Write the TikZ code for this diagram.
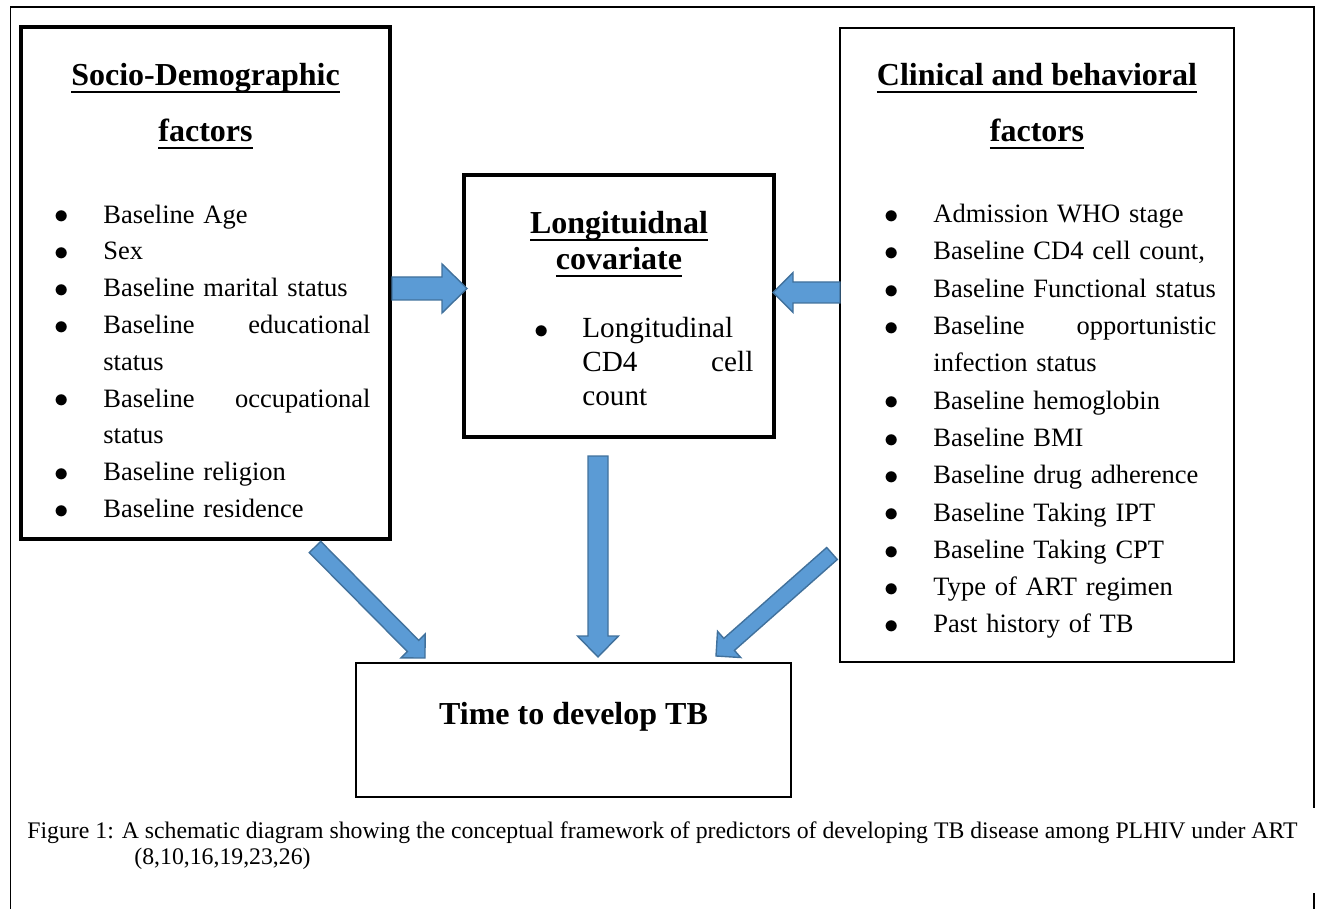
\documentclass[tikz,border=0pt]{standalone}
\usepackage{fontspec}
\setmainfont{Liberation Serif}
\usepackage{tikz}
\usetikzlibrary{calc,positioning}
\definecolor{arrowblue}{HTML}{5B9BD5}
\definecolor{arrowedge}{HTML}{41719C}

% Word-like underline for the headings
\newsavebox{\ulbox}
\newcommand{\wordul}[1]{\sbox{\ulbox}{#1}\rlap{\rule[-3.5pt]{\wd\ulbox}{1pt}}\usebox{\ulbox}}

% bullet list with flush-left bullets
\newcommand{\bigbullet}{\raisebox{-0.4pt}{\fontsize{15}{15}\selectfont$\bullet$}}
\newenvironment{factorlist}[1]{%
  \begin{list}{\bigbullet}{\setlength{\leftmargin}{#1}\setlength{\labelwidth}{#1}%
    \setlength{\labelsep}{0pt}\setlength{\itemsep}{0pt}\setlength{\parsep}{0pt}%
    \setlength{\topsep}{0pt}\setlength{\partopsep}{0pt}%
    \renewcommand{\makelabel}[1]{##1\hfil}}}%
  {\end{list}}

\newcommand{\sociofont}{\fontsize{13.25}{18.4}\selectfont\hyphenpenalty=10000}
\newcommand{\clinfont}{\fontsize{13.25}{18.65}\selectfont\hyphenpenalty=10000}
\newcommand{\longifont}{\fontsize{14.6}{17}\selectfont\hyphenpenalty=10000}

% block arrow: from, to, half shaft, half head, head length
\newcommand{\fatarrow}[5]{%
  \coordinate (#2-hd) at ($(#2)!#5!(#1)$);
  \draw[fatarrow] ($(#1)!#3!90:(#2)$) -- ($(#2-hd)!#3!90:(#2)$) -- ($(#2-hd)!#4!90:(#2)$) -- (#2)
    -- ($(#2-hd)!#4!-90:(#2)$) -- ($(#2-hd)!#3!-90:(#2)$) -- ($(#1)!#3!-90:(#2)$) -- cycle;}

\begin{document}
\begin{tikzpicture}[x=0.5pt,y=-0.5pt]
\tikzstyle{factorbox}=[draw,rectangle,inner sep=0pt]
\tikzstyle{heading}=[inner sep=0pt,anchor=base,font=\bfseries\fontsize{16}{20}\selectfont]
\tikzstyle{itemtext}=[inner sep=0pt,anchor=north west]
\tikzstyle{fatarrow}=[draw=arrowedge,fill=arrowblue,line width=0.7pt,line join=miter]
\tikzstyle{frameline}=[line width=0.8pt]
\useasboundingbox (0,0) rectangle (1318,909);

% outer frame
\draw[frameline] (10.5,909) -- (10.5,7) -- (1314,7) -- (1314,808);
\draw[frameline] (1314,893) -- (1314,909);

% boxes
\node[factorbox,line width=1.75pt,minimum width=184.5pt,minimum height=256pt] (socio) at (205.5,283) {};
\node[factorbox,line width=1.75pt,minimum width=155pt,minimum height=131pt] (longi) at (619,306) {};
\node[factorbox,line width=1pt,minimum width=197pt,minimum height=317pt] (clin) at (1037,345) {};
\node[factorbox,line width=0.8pt,minimum width=217.5pt,minimum height=67pt] (tb) at (573.5,730) {};

% headings
\node[heading] (sociohead) at (205.5,86) {\wordul{Socio-Demographic}};
\node[heading] (sociohead2) at (205.5,142) {\wordul{factors}};
\node[heading] (clinhead) at (1037,86) {\wordul{Clinical and behavioral}};
\node[heading] (clinhead2) at (1037,142) {\wordul{factors}};
\node[heading] (longihead) at (619,234) {\wordul{Longituidnal}};
\node[heading] (longihead2) at (619,270) {\wordul{covariate}};
\node[heading] (tbhead) at (573.5,724) {Time to develop TB};

% lists
\node[itemtext,text width=158pt,font=\sociofont] (socioitems) at (54,186) {%
  \begin{factorlist}{24.5pt}
  \item Baseline Age
  \item Sex
  \item Baseline marital status
  \item Baseline\hfill educational\newline status
  \item Baseline\hfill occupational\newline status
  \item Baseline religion
  \item Baseline residence
  \end{factorlist}};
\node[itemtext,text width=109.5pt,font=\longifont] (longiitems) at (534,303) {%
  \begin{factorlist}{24pt}
  \item Longitudinal\newline CD4\hfill cell\newline count
  \end{factorlist}};
\node[itemtext,text width=166pt,font=\clinfont] (clinitems) at (884,185) {%
  \begin{factorlist}{24.5pt}
  \item Admission WHO stage
  \item Baseline CD4 cell count,
  \item Baseline Functional status
  \item Baseline\hfill opportunistic\newline infection status
  \item Baseline hemoglobin
  \item Baseline BMI
  \item Baseline drug adherence
  \item Baseline Taking IPT
  \item Baseline Taking CPT
  \item Type of ART regimen
  \item Past history of TB
  \end{factorlist}};

% arrows
\coordinate (a1s) at (392,288.5);
\coordinate (a1e) at (467,288.5);
\coordinate (a2s) at (840,292.5);
\coordinate (a2e) at (773,292.5);
\coordinate (a3s) at (598,456);
\coordinate (a3e) at (598,657);
\coordinate (a4s) at (315,547);
\coordinate (a4e) at (425,658);
\coordinate (a5s) at (832,553.5);
\coordinate (a5e) at (716,656);
\fatarrow{a1s}{a1e}{5.75pt}{12.25pt}{12.5pt}
\fatarrow{a2s}{a2e}{5.25pt}{9.9pt}{10pt}
\fatarrow{a3s}{a3e}{5pt}{10.25pt}{10.5pt}
\fatarrow{a4s}{a4e}{4pt}{8.5pt}{8.5pt}
\fatarrow{a5s}{a5e}{4pt}{8.75pt}{8.75pt}

% caption
\node[anchor=base west,inner sep=0pt,font=\fontsize{11.88}{13}\selectfont] (cap) at (27,838) {Figure 1: A schematic diagram showing the conceptual framework of predictors of developing TB disease among PLHIV under ART};
\node[anchor=base west,inner sep=0pt,font=\fontsize{11.88}{13}\selectfont] (capref) at (134,864) {(8,10,16,19,23,26)};
\end{tikzpicture}
\end{document}
